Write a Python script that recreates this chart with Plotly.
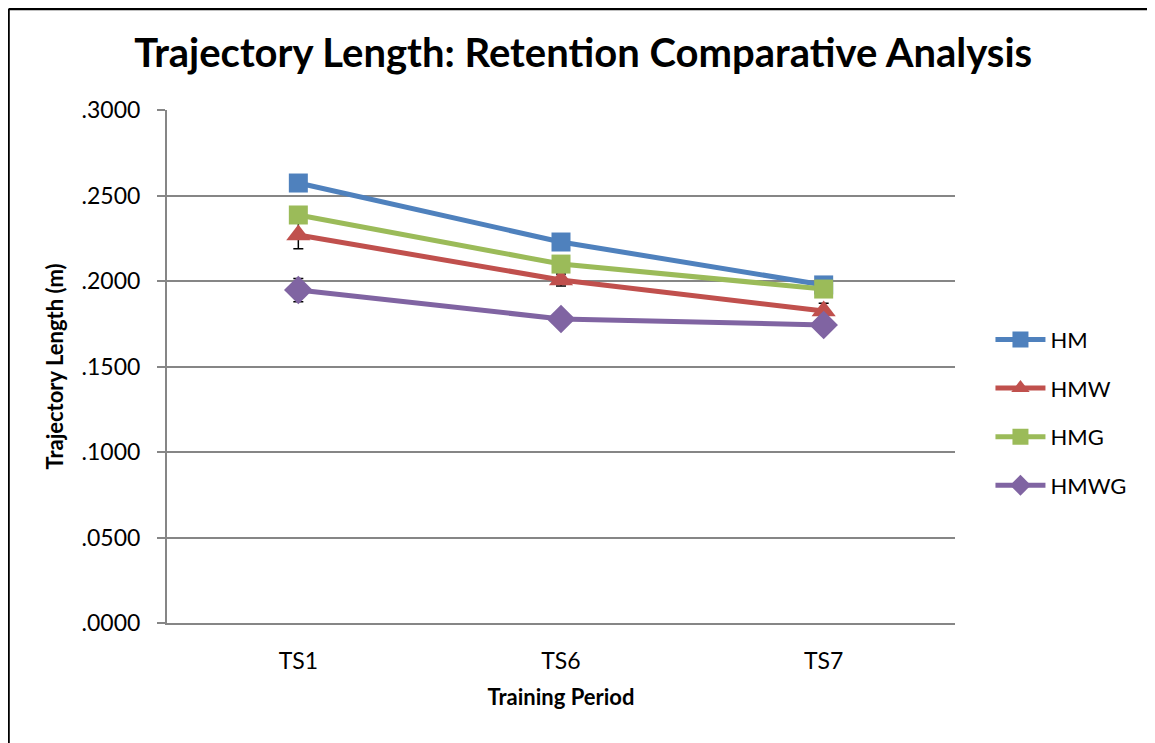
import plotly.graph_objects as go

periods = ["TS1", "TS6", "TS7"]
hm = [0.2573, 0.2228, 0.1977]
hmw = [0.2269, 0.2006, 0.1825]
hmg = [0.2386, 0.2099, 0.1953]
hmwg = [0.1947, 0.1778, 0.1743]

hm_err = [0.004, 0.004, 0.003]
hmw_err = [0.008, 0.0035, 0.0045]
hmg_err = [0.004, 0.004, 0.003]
hmwg_err = [0.0068, 0.003, 0.003]

y_ticks = [0.0, 0.05, 0.10, 0.15, 0.20, 0.25, 0.30]
y_tick_labels = [".0000", ".0500", ".1000", ".1500", ".2000", ".2500", ".3000"]

series = [
    ("HM", hm, hm_err, "#4F81BD", "square", 19),
    ("HMW", hmw, hmw_err, "#C0504D", "triangle-up", 21),
    ("HMG", hmg, hmg_err, "#9BBB59", "square", 19),
    ("HMWG", hmwg, hmwg_err, "#8064A2", "diamond", 22),
]

fig = go.Figure()
for name, vals, errs, color, symbol, size in series:
    fig.add_trace(go.Scatter(
        x=periods, y=vals, name=name, legendgroup=name, mode="lines+markers",
        line=dict(color=color, width=5),
        marker=dict(symbol=symbol, size=size, color=color),
        error_y=dict(type="data", array=errs, color="black", thickness=1.5, width=5),
    ))

font = "Lato, 'Open Sans', sans-serif"
# page body has an 8px margin, so margins are shifted to line the plot area up
fig.update_layout(
    width=1155, height=743,
    margin=dict(l=159, r=208, t=102, b=128),
    paper_bgcolor="white", plot_bgcolor="white",
    font=dict(family=font, color="black", size=22),
    title=dict(text="<b>Trajectory Length: Retention Comparative Analysis</b>",
               x=0.498, xanchor="center", y=0.939, yanchor="middle",
               font=dict(size=40, family=font)),
    showlegend=True,
    legend=dict(x=1.045, xanchor="left", y=0.41, yanchor="middle",
                font=dict(size=22), tracegroupgap=17, itemwidth=50),
    xaxis=dict(showline=True, linecolor="#868686", linewidth=2, ticks="",
               tickfont=dict(size=23), range=[-0.5, 2.5], ticklabelstandoff=16,
               title=dict(text="<b>Training Period</b>", font=dict(size=22), standoff=17)),
    yaxis=dict(range=[0, 0.3], tickvals=y_ticks, ticktext=y_tick_labels,
               showgrid=True, gridcolor="#868686", gridwidth=1.5,
               showline=True, linecolor="#868686", linewidth=2,
               ticks="outside", ticklen=8, tickcolor="#868686", tickwidth=2,
               tickfont=dict(size=23), zeroline=False, ticklabelstandoff=12,
               title=dict(text="<b>Trajectory Length (m)</b>", font=dict(size=22), standoff=12)),
    shapes=[
        dict(type="line", xref="paper", yref="paper", x0=-0.2011, x1=1.27, y0=1.1969, y1=1.1969,
             line=dict(color="black", width=2.5)),
        dict(type="line", xref="paper", yref="paper", x0=-0.2011, x1=-0.2011, y0=1.1969, y1=-0.25,
             line=dict(color="black", width=2.5)),
    ],
)

fig.write_html("out.html")
